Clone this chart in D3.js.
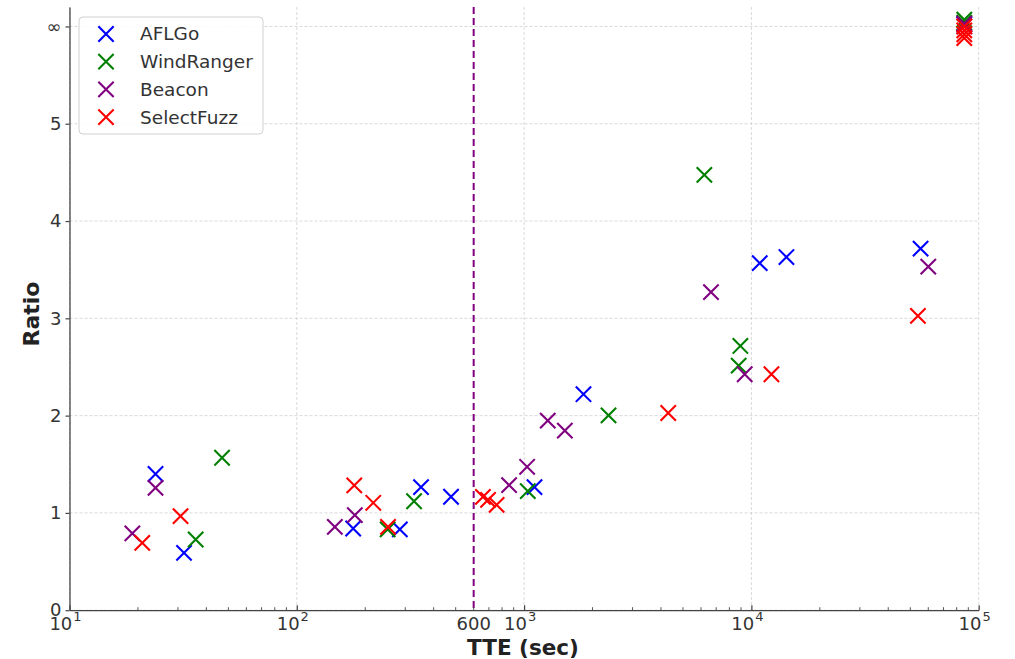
<!DOCTYPE html>
<html>
<head>
<meta charset="utf-8">
<script src="https://cdn.jsdelivr.net/npm/d3@7"></script>
<style>
  html, body { margin: 0; padding: 0; background: #fff; }
  svg { display: block; font-family: "DejaVu Sans", sans-serif; }
</style>
</head>
<body>
<svg id="chart" width="1015" height="659"></svg>
<script>
// ══════════════════════════════════════════════════════════
// DATA  (TTE in seconds, ratio; timeouts sit on the ∞ row)
// ══════════════════════════════════════════════════════════
const tools = ['AFLGo', 'WindRanger', 'Beacon', 'SelectFuzz'];

const aflgoTTE   = [23.9, 31.9, 177, 284, 352, 477, 1111, 1825, 10880, 14260, 55500, 86400];
const aflgoRatio = [1.40, 0.59, 0.84, 0.83, 1.265, 1.166, 1.265, 2.22, 3.567, 3.63, 3.717, 6.02];

const windTTE   = [35.9, 46.9, 251, 328, 1038, 2352, 6210, 8790, 8944, 86400, 86400];
const windRatio = [0.727, 1.567, 0.83, 1.12, 1.224, 2.003, 4.475, 2.514, 2.716, 6.07, 6.04];

const beaconTTE   = [18.9, 23.9, 147, 180, 859, 1031, 1271, 1511, 6640, 9346, 60000, 86400, 86400];
const beaconRatio = [0.789, 1.258, 0.857, 0.977, 1.286, 1.474, 1.948, 1.845, 3.27, 2.425, 3.532, 6.03, 6.0];

const selectTTE   = [20.9, 30.8, 179, 217, 252, 659, 694, 757, 4306, 12250, 54030, 86400, 86400, 86400, 86400];
const selectRatio = [0.692, 0.967, 1.283, 1.104, 0.857, 1.165, 1.134, 1.083, 2.027, 2.425, 3.025, 6.0, 5.96, 5.92, 5.88];

const yTickValues = [0, 1, 2, 3, 4, 5, 6];
const yTickLabels = ['0', '1', '2', '3', '4', '5', '∞'];
const xDecades    = [1, 2, 3, 4, 5];
const cutoffTTE   = 600;

const seriesTTE   = [aflgoTTE, windTTE, beaconTTE, selectTTE];
const seriesRatio = [aflgoRatio, windRatio, beaconRatio, selectRatio];

// ══════════════════════════════════════════════════════════
// SCALES
// ══════════════════════════════════════════════════════════
const svg = d3.select('#chart');
const M = { left: 69.5, right: 978.7, top: 7, bottom: 610.2 };

const x = d3.scaleLog().domain([10, 1e5]).range([M.left, M.right]);
const y = d3.scaleLinear().domain([0, 6.2]).range([M.bottom, M.top]);
const color = d3.scaleOrdinal().domain(tools).range(['#0000ff', '#008000', '#800080', '#ff0000']);

const textColor = '#333';
const spineColor = '#444';
const tickFont = 18;

// ══════════════════════════════════════════════════════════
// GRID
// ══════════════════════════════════════════════════════════
const grid = svg.append('g').attr('class', 'grid')
  .attr('stroke', '#cfcfcf').attr('stroke-width', 0.8).attr('stroke-dasharray', '3,2');

grid.selectAll('.gx').data(xDecades.map(p => Math.pow(10, p))).join('line')
  .attr('x1', d => x(d)).attr('x2', d => x(d))
  .attr('y1', M.top).attr('y2', M.bottom);

grid.selectAll('.gy').data(yTickValues).join('line')
  .attr('x1', M.left).attr('x2', M.right)
  .attr('y1', d => y(d)).attr('y2', d => y(d));

// 600 s cutoff line
svg.append('line')
  .attr('x1', x(cutoffTTE)).attr('x2', x(cutoffTTE))
  .attr('y1', M.top).attr('y2', M.bottom)
  .attr('stroke', '#800080').attr('stroke-width', 2).attr('stroke-dasharray', '7,4');

// ══════════════════════════════════════════════════════════
// AXES
// ══════════════════════════════════════════════════════════
const minorTicks = [];
for (let p = 1; p < 5; p++) for (let m = 2; m <= 9; m++) minorTicks.push(m * Math.pow(10, p));

const xAxis = d3.axisBottom(x)
  .tickValues(xDecades.map(p => Math.pow(10, p)))
  .tickSizeInner(-5).tickSizeOuter(0)
  .tickFormat('');
const xg = svg.append('g').attr('transform', `translate(0,${M.bottom})`).call(xAxis);
xg.select('.domain').attr('stroke', spineColor).attr('stroke-width', 1.3);
xg.selectAll('.tick line').attr('stroke', spineColor).attr('stroke-width', 1.2);

xg.selectAll('.minor').data(minorTicks).join('line')
  .attr('class', 'minor')
  .attr('x1', d => x(d)).attr('x2', d => x(d))
  .attr('y1', 0).attr('y2', -3)
  .attr('stroke', spineColor).attr('stroke-width', 0.9);

// decade labels as 10^n
const xl = svg.append('g').attr('fill', textColor).attr('font-size', tickFont);
xDecades.forEach(p => {
  const t = xl.append('text')
    .attr('x', x(Math.pow(10, p)) - 4).attr('y', 630)
    .attr('text-anchor', 'middle');
  t.append('tspan').text('10');
  t.append('tspan').attr('dy', -9).attr('dx', 1).attr('font-size', 13).text(p);
});
xl.append('text')
  .attr('x', x(cutoffTTE)).attr('y', 630)
  .attr('text-anchor', 'middle').text(cutoffTTE);

const yAxis = d3.axisLeft(y)
  .tickValues(yTickValues)
  .tickSizeInner(4).tickSizeOuter(0)
  .tickPadding(4)
  .tickFormat((d, i) => yTickLabels[i]);
const yg = svg.append('g').attr('transform', `translate(${M.left},0)`).call(yAxis);
yg.select('.domain').attr('stroke', spineColor).attr('stroke-width', 1.3);
yg.selectAll('.tick line').attr('stroke', spineColor).attr('stroke-width', 1.2);
yg.selectAll('.tick text')
  .attr('fill', textColor).attr('font-size', tickFont)
  .attr('font-family', '"DejaVu Sans", sans-serif');

// axis titles
svg.append('text')
  .attr('x', 523).attr('y', 655)
  .attr('text-anchor', 'middle')
  .attr('font-size', 21.5).attr('font-weight', 'bold').attr('fill', '#222')
  .text('TTE (sec)');

svg.append('text')
  .attr('transform', 'translate(39,314) rotate(-90)')
  .attr('text-anchor', 'middle')
  .attr('font-size', 22).attr('font-weight', 'bold').attr('fill', '#222')
  .text('Ratio');

// ══════════════════════════════════════════════════════════
// MARKERS
// ══════════════════════════════════════════════════════════
const xMark = d3.symbol().type(d3.symbolX).size(155);

tools.forEach((name, i) => {
  const pts = seriesTTE[i].map((t, j) => ({ t, r: seriesRatio[i][j] }));
  svg.append('g').attr('class', 'series')
    .selectAll('path').data(pts).join('path')
    .attr('d', xMark)
    .attr('transform', d => `translate(${x(d.t)},${y(d.r)})`)
    .attr('fill', 'none')
    .attr('stroke', color(name))
    .attr('stroke-width', 2.1);
});

// ══════════════════════════════════════════════════════════
// LEGEND
// ══════════════════════════════════════════════════════════
const legend = svg.append('g').attr('transform', 'translate(79,17)');
legend.append('rect')
  .attr('width', 184).attr('height', 117).attr('rx', 4)
  .attr('fill', 'rgba(255,255,255,0.85)')
  .attr('stroke', '#d0d0d0').attr('stroke-width', 1);

const item = legend.selectAll('.item').data(tools).join('g')
  .attr('class', 'item')
  .attr('transform', (d, i) => `translate(0,${17 + i * 27.7})`);
item.append('path')
  .attr('d', xMark)
  .attr('transform', 'translate(27,0)')
  .attr('fill', 'none')
  .attr('stroke', d => color(d))
  .attr('stroke-width', 2.1);
item.append('text')
  .attr('x', 61).attr('dy', '0.35em')
  .attr('font-size', 18.5).attr('fill', textColor)
  .text(d => d);
</script>
</body>
</html>
